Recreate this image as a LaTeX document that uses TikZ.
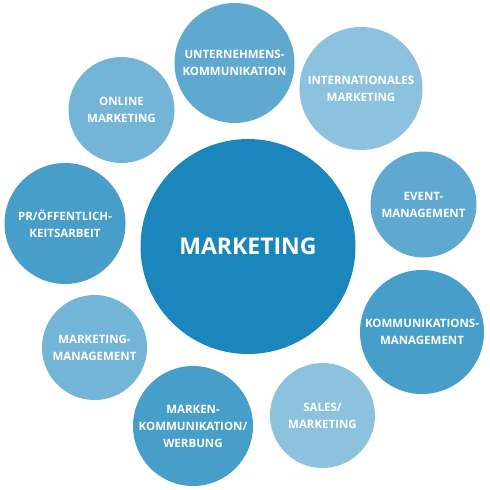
\documentclass[tikz,border=0pt]{standalone}
\usepackage{fontspec}
\setmainfont{Open Sans}
\usepackage{tikz}
\usepackage{xcolor}
\definecolor{Core}{HTML}{1B86BC}
\definecolor{Deep}{HTML}{479EC9}
\definecolor{Mid}{HTML}{5FA9D0}
\definecolor{Soft}{HTML}{74B4D6}
\definecolor{Pale}{HTML}{8CC2DE}
\tikzset{
  bubble/.style={circle,inner sep=0pt,text=white,align=center,
    font=\fontsize{11.5}{17}\selectfont\bfseries},
}

\begin{document}
\begin{tikzpicture}[x=1pt,y=-1pt]
    \useasboundingbox (0,0) rectangle (490,490);
    \node[bubble,fill=Core,minimum size=215pt,font=\fontsize{23}{28}\selectfont\bfseries] (mkt) at (248,246.5) {MARKETING};
    \node[bubble,fill=Mid,minimum size=120pt] (unternehmen) at (234.5,63) {UNTERNEHMENS-\\KOMMUNIKATION};
    \node[bubble,fill=Pale,minimum size=123pt] (intl) at (361,88.5) {INTERNATIONALES\\MARKETING};
    \node[bubble,fill=Soft,minimum size=106pt] (online) at (121.5,110) {ONLINE\\MARKETING};
    \node[bubble,fill=Mid,minimum size=106pt] (event) at (423.5,204.5) {EVENT-\\MANAGEMENT};
    \node[bubble,fill=Deep,minimum size=121pt] (pr) at (65,223.5) {PR/ÖFFENTLICH-\\KEITSARBEIT};
    \node[bubble,fill=Deep,minimum size=124pt] (kommmgmt) at (422,332) {KOMMUNIKATIONS-\\MANAGEMENT};
    \node[bubble,fill=Soft,minimum size=105pt] (mktmgmt) at (94.5,347.5) {MARKETING-\\MANAGEMENT};
    \node[bubble,fill=Deep,minimum size=120pt] (marken) at (193,426) {MARKEN-\\KOMMUNIKATION/\\WERBUNG};
    \node[bubble,fill=Pale,minimum size=105pt] (sales) at (322.5,415.5) {SALES/\\MARKETING};
  \end{tikzpicture}
\end{document}
